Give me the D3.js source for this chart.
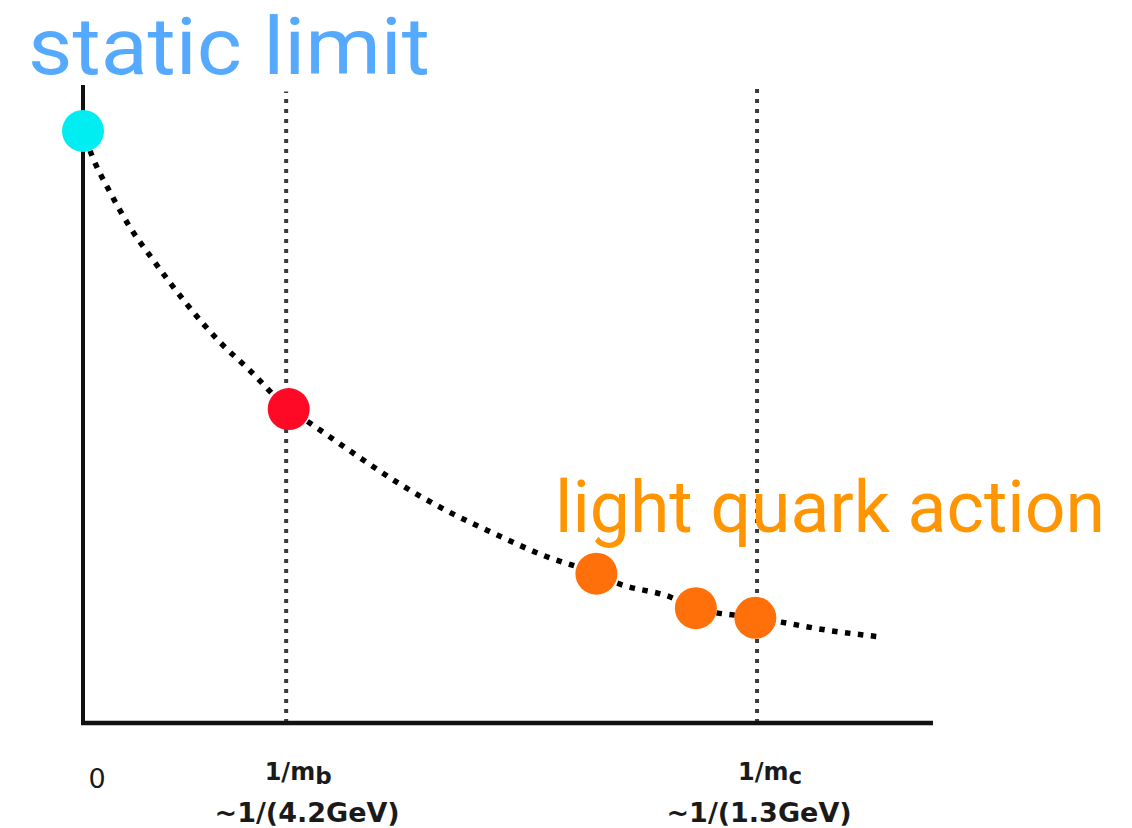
<!DOCTYPE html>
<html>
<head>
<meta charset="utf-8">
<script src="https://cdn.jsdelivr.net/npm/d3@7"></script>
<style>
  html, body { margin: 0; padding: 0; background: #fff; }
  svg { display: block; }
</style>
</head>
<body>
<svg id="canvas" width="1132" height="828"></svg>
<script>
// ---- data (x: position along 1/m axis, y: schematic value, both 0..1) ----
var curveX = [0, 0.0106, 0.0318, 0.0553, 0.0824, 0.12, 0.161, 0.196, 0.242, 0.267, 0.318, 0.371, 0.426, 0.482, 0.541, 0.604, 0.629, 0.691, 0.721, 0.791, 0.826, 0.873, 0.938];
var curveY = [0.928, 0.889, 0.832, 0.777, 0.726, 0.660, 0.597, 0.553, 0.492, 0.470, 0.423, 0.376, 0.334, 0.298, 0.263, 0.234, 0.219, 0.1975, 0.180, 0.165, 0.157, 0.146, 0.135];

var pointX = [0, 0.242, 0.604, 0.721, 0.791];
var pointY = [0.928, 0.492, 0.234, 0.180, 0.165];
var pointKind = ['static', 'b', 'light', 'light', 'light'];

var guideX = [0.239, 0.793];
var guideTop = [0.99, 0.997];

var tickX = [0, 0.239, 0.793];
var tickMain = ['0', '1/m', '1/m'];
var tickSub = ['', 'b', 'c'];
var tickSecond = ['', '~1/(4.2GeV)', '~1/(1.3GeV)'];

var titleStatic = 'static limit';
var titleLight = 'light quark action';

// ---- layout ----
var svg = d3.select('#canvas');
var xScale = d3.scaleLinear().domain([0, 1]).range([83, 933]);
var yScale = d3.scaleLinear().domain([0, 1]).range([723, 85]);
var colors = { static: '#00eef2', b: '#ff0a26', light: '#ff6f0a' };

// guides
svg.selectAll('line.guide').data(guideX).enter().append('line')
  .attr('class', 'guide')
  .attr('x1', d => xScale(d)).attr('x2', d => xScale(d))
  .attr('y1', yScale(0)).attr('y2', (d, i) => yScale(guideTop[i]))
  .attr('stroke', '#3a3a3a').attr('stroke-width', 4)
  .attr('stroke-dasharray', '4,6');

// axes
svg.append('line')
  .attr('x1', xScale(0)).attr('x2', xScale(0))
  .attr('y1', yScale(0) + 2).attr('y2', yScale(1))
  .attr('stroke', '#111').attr('stroke-width', 4);
svg.append('line')
  .attr('x1', xScale(0) - 2).attr('x2', xScale(1))
  .attr('y1', yScale(0)).attr('y2', yScale(0))
  .attr('stroke', '#111').attr('stroke-width', 4.5);

// dotted curve
var lineGen = d3.line().x(d => xScale(d[0])).y(d => yScale(d[1])).curve(d3.curveMonotoneX);
svg.append('path')
  .attr('d', lineGen(curveX.map((x, i) => [x, curveY[i]])))
  .attr('fill', 'none').attr('stroke', '#000').attr('stroke-width', 5.5)
  .attr('stroke-dasharray', '5.5,7.5').attr('stroke-dashoffset', -8);

// points
svg.selectAll('circle.pt').data(pointX).enter().append('circle')
  .attr('class', 'pt')
  .attr('cx', d => xScale(d)).attr('cy', (d, i) => yScale(pointY[i]))
  .attr('r', 21)
  .attr('fill', (d, i) => colors[pointKind[i]]);

// tick labels
var dxMain = [14, 12, 13], dxSecond = [0, 21, 2];
tickX.forEach(function(x, i) {
  var t = svg.append('text')
    .attr('x', xScale(x) + dxMain[i]).attr('y', i === 0 ? 788 : 780)
    .attr('text-anchor', 'middle')
    .attr('font-family', 'DejaVu Sans').attr('font-weight', i === 0 ? 'normal' : 'bold')
    .attr('font-size', i === 0 ? 27 : 24).attr('fill', '#1a1a1a');
  t.append('tspan').text(tickMain[i]);
  if (tickSub[i]) t.append('tspan').attr('dy', 4).attr('font-size', 23).text(tickSub[i]);
  if (tickSecond[i]) {
    svg.append('text')
      .attr('x', xScale(x) + dxSecond[i]).attr('y', 822)
      .attr('text-anchor', 'middle')
      .attr('font-family', 'DejaVu Sans').attr('font-weight', 'bold')
      .attr('font-size', 27).attr('fill', '#1a1a1a')
      .text(tickSecond[i]);
  }
});

// annotations
svg.append('text').attr('x', 28).attr('y', 74)
  .attr('font-family', 'Roboto').attr('font-size', 80)
  .attr('textLength', 402).attr('lengthAdjust', 'spacingAndGlyphs')
  .attr('fill', '#55aaff').text(titleStatic);
svg.append('text').attr('x', 555).attr('y', 532)
  .attr('font-family', 'Roboto').attr('font-size', 73)
  .attr('textLength', 550).attr('lengthAdjust', 'spacingAndGlyphs')
  .attr('fill', '#ff9500').text(titleLight);
</script>
</body>
</html>
